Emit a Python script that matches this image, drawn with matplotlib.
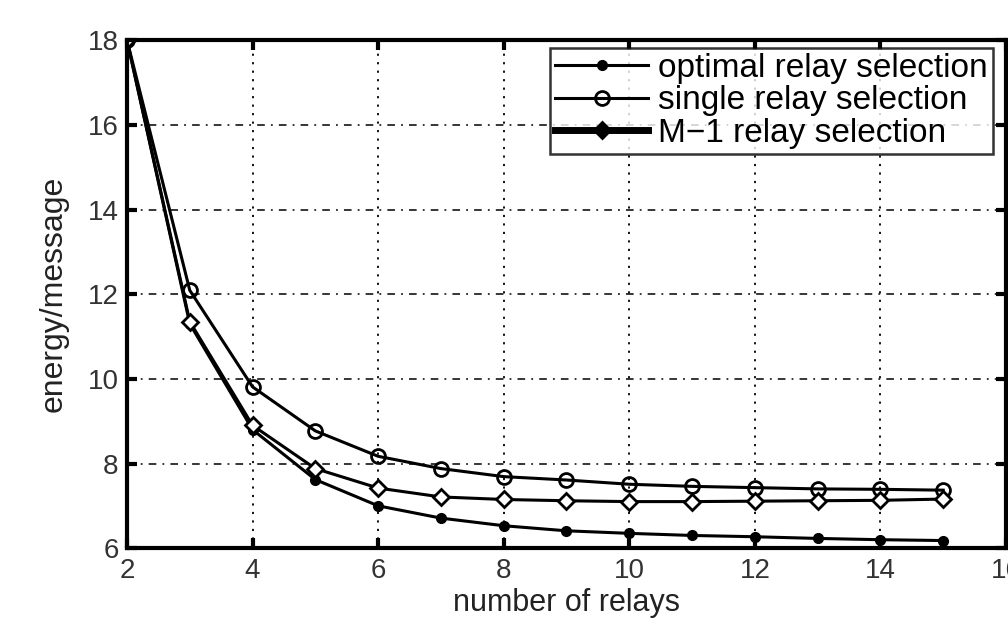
import matplotlib
matplotlib.use("Agg")
import matplotlib.pyplot as plt

plt.rcParams["font.family"] = ["Liberation Sans", "DejaVu Sans"]

relays = [2, 3, 4, 5, 6, 7, 8, 9, 10, 11, 12, 13, 14, 15]
optimal = [18.0, 11.3, 8.8, 7.62, 7.0, 6.71, 6.53, 6.41, 6.35, 6.30, 6.27, 6.23, 6.20, 6.18]
single = [18.0, 12.09, 9.81, 8.77, 8.17, 7.88, 7.69, 7.61, 7.51, 7.46, 7.43, 7.40, 7.39, 7.37]
m_minus_1 = [18.0, 11.35, 8.9, 7.88, 7.42, 7.21, 7.15, 7.12, 7.10, 7.10, 7.11, 7.12, 7.13, 7.16]

xticks = [2, 4, 6, 8, 10, 12, 14, 16]
yticks = [6, 8, 10, 12, 14, 16, 18]

fig = plt.figure(figsize=(10.08, 6.18), dpi=100)
ax = fig.add_axes([0.126, 0.113, 0.872, 0.822])

ax.plot(relays, optimal, color="black", lw=2.2, marker="o", ms=7,
        mfc="black", mec="black", label="optimal relay selection")
ax.plot(relays, single, color="black", lw=2.2, marker="o", ms=10,
        mfc="none", mec="black", mew=2, label="single relay selection")
ax.plot(relays, m_minus_1, color="black", lw=2.2, marker="D", ms=8,
        mfc="white", mec="black", mew=2, label="M\u22121 relay selection")

ax.set_xlim(2, 16)
ax.set_ylim(6, 18)
ax.set_xticks(xticks)
ax.set_yticks(yticks)

ax.xaxis.grid(True, color="black", linestyle=(0, (1.2, 3.5)), lw=1.3)
ax.yaxis.grid(True, color="black", linestyle=(0, (5, 4, 1.2, 4)), lw=1.1)

for s in ax.spines.values():
    s.set_linewidth(3)
ax.tick_params(direction="in", length=7, width=3, top=True, right=True,
               labelsize=20, colors="black", labelcolor="#333333")
ax.tick_params(axis="x", pad=7)
ax.tick_params(axis="y", pad=6)

ax.set_xlabel("number of relays", fontsize=22, color="#222222", labelpad=3)
ax.set_ylabel("energy/message", fontsize=23, color="#222222", labelpad=14)

leg = ax.legend(loc="upper right", bbox_to_anchor=(0.985, 0.985), fontsize=24,
                frameon=True, fancybox=False, edgecolor="black",
                handlelength=2.8, borderpad=0.15, labelspacing=0.05,
                handletextpad=0.3, borderaxespad=0)
leg.get_frame().set_linewidth(1.8)
leg.legend_handles[2].set_linewidth(5)
leg.legend_handles[2].set_markerfacecolor("black")

fig.savefig("out.png", dpi=100)
